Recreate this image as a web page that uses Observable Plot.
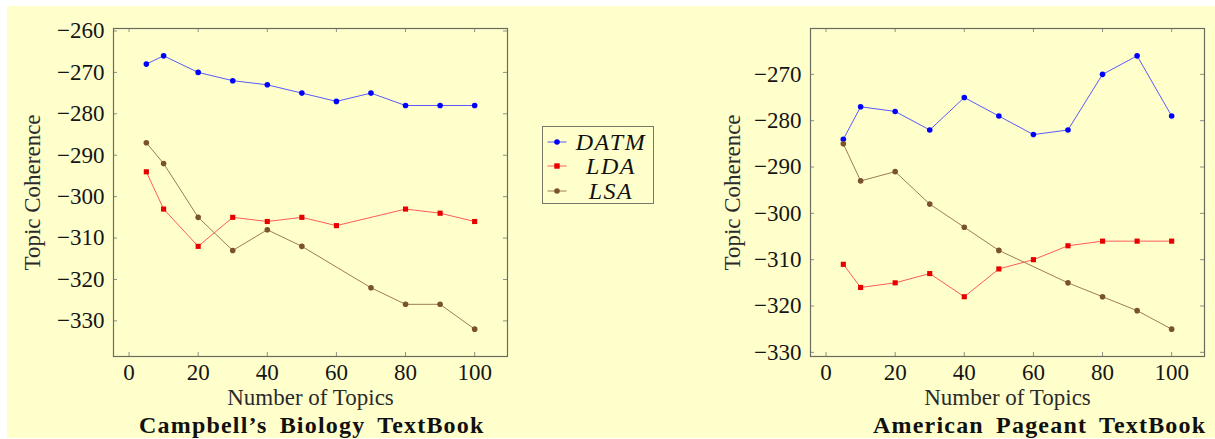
<!DOCTYPE html>
<html><head><meta charset="utf-8">
<script src="https://cdn.jsdelivr.net/npm/d3@7"></script>
<script src="https://cdn.jsdelivr.net/npm/@observablehq/plot@0.6"></script>
<style>
body{margin:0;background:#fff;}
#page{position:relative;width:1215px;height:439px;overflow:hidden;font-family:"Liberation Serif",serif;color:#111;}
#bg{position:absolute;left:7px;top:6px;width:1208px;height:432px;background:#ffffcc;}
.chart{position:absolute;top:0;}
.chart svg{background:transparent;overflow:visible;font-family:"Liberation Serif",serif !important;}
.chart svg text{font-family:"Liberation Serif",serif !important;}
#legend{position:absolute;left:542px;top:126px;width:110px;height:76px;border:1px solid #77776a;}
.row{position:absolute;left:0;width:110px;height:24px;}
.row svg{position:absolute;left:0;top:0;}
.row span{position:absolute;left:26px;right:0;text-align:center;font-family:"Liberation Serif",serif;font-style:italic;font-size:24px;line-height:24px;letter-spacing:1.5px;}
.title{position:absolute;font-family:"Liberation Serif",serif;font-weight:bold;font-size:24px;letter-spacing:1.2px;word-spacing:5px;white-space:nowrap;line-height:24px;}
</style></head>
<body>
<div id="page"><div id="bg"></div>
<div id="left" class="chart" style="left:0px"></div>
<div id="right" class="chart" style="left:700px"></div>
<div id="legend"></div>
<div class="title" id="t1" style="left:139px;top:413px;">Campbell’s Biology TextBook</div>
<div class="title" id="t2" style="left:873px;top:413px;">American Pageant TextBook</div>
</div>
<script>
const topics = [5, 10, 20, 30, 40, 50, 60, 70, 80, 90, 100];
const series = ["DATM", "LDA", "LSA"];
const colors = {DATM: "#0000ff", LDA: "#e60000", LSA: "#7a5230"};
const lineColors = {DATM: "#5a5aff", LDA: "#ff5a5a", LSA: "#9c7c58"};
const xTicks = [0, 20, 40, 60, 80, 100];
const campbellTicks = [-330, -320, -310, -300, -290, -280, -270, -260];
const pageantTicks = [-330, -320, -310, -300, -290, -280, -270];

// Campbell's Biology TextBook
const campbellDATM = [-268, -266, -270, -272, -273, -275, -277, -275, -278, -278, -278];
const campbellLDA  = [-294, -303, -312, -305, -306, -305, -307, null, -303, -304, -306];
const campbellLSA  = [-287, -292, -305, -313, -308, -312, null, -322, -326, -326, -332];
// American Pageant TextBook
const pageantDATM = [-284, -277, -278, -282, -275, -279, -283, -282, -270, -266, -279];
const pageantLDA  = [-311, -316, -315, -313, -318, -312, -310, -307, -306, -306, -306];
const pageantLSA  = [-285, -293, -291, -298, -303, -308, null, -315, -318, -321, -325];

const FONT = "Liberation Serif, serif";

function rows(arrs) {
  const out = [];
  series.forEach((s, i) => arrs[i].forEach((v, j) => { if (v !== null) out.push({series: s, topics: topics[j], value: v}); }));
  return out;
}
function enlarge([a, b]) { const d = (b - a) * 0.1; return [a - d, b + d]; }

function chart(data, yTicks, opts) {
  const {width, height, marginLeft, marginRight, marginTop, marginBottom} = opts;
  const pw = width - marginLeft - marginRight, ph = height - marginTop - marginBottom;
  const tickC = "#8f8f84", tl = 4;
  return Plot.plot({
    width, height, marginLeft, marginRight, marginTop, marginBottom,
    style: {background: "transparent", fontFamily: FONT, color: "#111", overflow: "visible"},
    x: {domain: enlarge(d3.extent(data, d => d.topics))},
    y: {domain: enlarge(d3.extent(data, d => d.value))},
    marks: [
      Plot.tickX(xTicks, {x: d => d, insetTop: ph - tl, stroke: tickC}),
      Plot.tickX(xTicks, {x: d => d, insetBottom: ph - tl, stroke: tickC}),
      Plot.tickY(yTicks, {y: d => d, insetRight: pw - tl, stroke: tickC}),
      Plot.tickY(yTicks, {y: d => d, insetLeft: pw - tl, stroke: tickC}),
      Plot.frame({stroke: "#6a6a5e", strokeWidth: 1.2}),
      Plot.axisX({ticks: xTicks, tickSize: 0, tickPadding: 7, fontSize: 23, fontFamily: FONT, label: null, fill: "#151515"}),
      Plot.axisY({ticks: yTicks, tickSize: 0, tickPadding: 9, fontSize: 23, fontFamily: FONT, label: null, fill: "#151515"}),
      Plot.text(["Number of Topics"], {text: d => d, frameAnchor: "bottom", lineAnchor: "middle", textAnchor: "middle", dy: 41, fontSize: 23, fontFamily: FONT, fill: "#2a2a2a"}),
      Plot.text(["Topic Coherence"], {text: d => d, frameAnchor: "left", lineAnchor: "middle", textAnchor: "middle", dx: opts.ylabelDx, rotate: -90, fontSize: 23, fontFamily: FONT, fill: "#2a2a2a"}),
      Plot.line(data, {x: "topics", y: "value", z: "series", stroke: d => lineColors[d.series], strokeWidth: 1}),
      Plot.dot(data.filter(d => d.series !== "LDA"), {x: "topics", y: "value", r: 2.8, fill: d => colors[d.series], stroke: "none"}),
      Plot.dot(data.filter(d => d.series === "LDA"), {x: "topics", y: "value", symbol: "square", r: 2.9, fill: colors.LDA, stroke: "none"})
    ]
  });
}

document.getElementById("left").appendChild(chart(rows([campbellDATM, campbellLDA, campbellLSA]), campbellTicks,
  {width: 520, height: 439, marginLeft: 113, marginRight: 13, marginTop: 28, marginBottom: 83, ylabelDx: -81}));
document.getElementById("right").appendChild(chart(rows([pageantDATM, pageantLDA, pageantLSA]), pageantTicks,
  {width: 515, height: 439, marginLeft: 110, marginRight: 11, marginTop: 28, marginBottom: 83, ylabelDx: -78}));

// legend
const legend = document.getElementById("legend");
series.forEach((s, i) => {
  const row = document.createElement("div");
  row.className = "row";
  row.style.top = (3 + i * 24.3) + "px";
  const marker = s === "LDA"
    ? `<rect x="11.3" y="9.3" width="5.4" height="5.4" fill="${colors[s]}"/>`
    : `<circle cx="14" cy="12" r="2.8" fill="${colors[s]}"/>`;
  row.innerHTML = `<svg width="26" height="24"><line x1="4.5" x2="23.5" y1="12" y2="12" stroke="${lineColors[s]}" stroke-width="1"/>${marker}</svg><span>${s}</span>`;
  legend.appendChild(row);
});
</script>
</body></html>
